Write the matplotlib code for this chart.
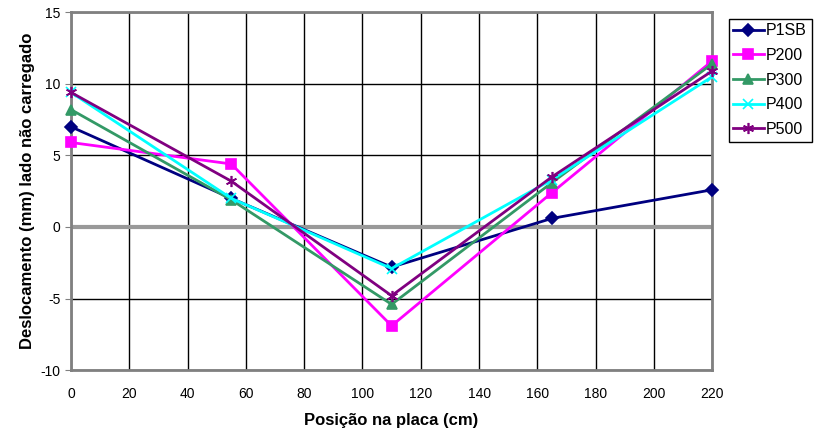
import matplotlib.pyplot as plt

plt.rcParams['font.family'] = ['Liberation Sans', 'DejaVu Sans']
plt.rcParams['axes.unicode_minus'] = False

# posicoes (cm) e deslocamentos (mm)
posicao = [0, 55, 110, 165, 220]
p1sb = [7.0, 2.0, -2.8, 0.6, 2.6]
p200 = [5.9, 4.4, -6.9, 2.4, 11.6]
p300 = [8.2, 1.9, -5.4, 3.1, 11.4]
p400 = [9.4, 2.0, -2.9, 3.3, 10.5]
p500 = [9.4, 3.2, -4.8, 3.5, 10.9]

series = [
    ('P1SB', p1sb, '#000080', 'D', 6),
    ('P200', p200, '#FF00FF', 's', 7),
    ('P300', p300, '#339966', '^', 7),
    ('P400', p400, '#00FFFF', 'x', 7),
    ('P500', p500, '#800080', (6, 2, 0), 8),
]

fig = plt.figure(figsize=(8.15, 4.34), dpi=100)
ax = fig.add_axes([0.087, 0.147, 0.787, 0.825])

ax.set_xlim(0, 220)
ax.set_ylim(-10, 15)
ax.set_xticks(range(0, 221, 20))
ax.set_yticks(range(-10, 16, 5))
ax.grid(True, color='black', linewidth=1.0)
ax.axhline(0, color='#999999', linewidth=3, zorder=2)

for nome, vals, cor, mk, ms in series:
    ax.plot(posicao, vals, color=cor, marker=mk, markersize=ms, linewidth=2,
            markeredgewidth=1.2, label=nome, zorder=3, clip_on=False)

for s in ax.spines.values():
    s.set_color('#808080')
    s.set_linewidth(2)

ax.tick_params(axis='x', length=0, pad=12, labelsize=10)
ax.tick_params(axis='y', length=4, color='#808080', labelsize=10)

ax.set_xlabel('Posição na placa (cm)', fontsize=12, fontweight='bold', labelpad=9)
ax.set_ylabel('Deslocamento (mm) lado não carregado', fontsize=12, fontweight='bold')

leg = fig.legend(loc='upper left', bbox_to_anchor=(0.888, 0.968), fontsize=11.5,
                 fancybox=False, edgecolor='black', framealpha=1, handlelength=1.9,
                 borderpad=0.3, labelspacing=0.6, handletextpad=0.15, borderaxespad=0.3)
leg.get_frame().set_linewidth(1)

plt.savefig('out.png', dpi=100)
